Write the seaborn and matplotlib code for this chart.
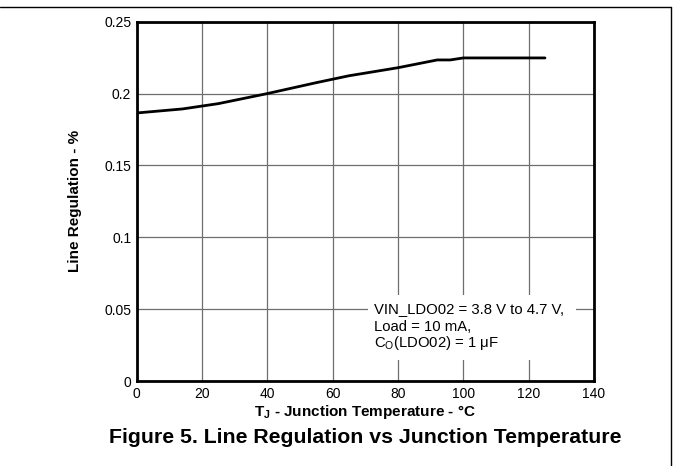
import matplotlib
matplotlib.use("Agg")
import matplotlib.pyplot as plt
import seaborn as sns
import pandas as pd
from matplotlib.lines import Line2D
from matplotlib.patches import Rectangle

# Data
temperature_c = [0, 14, 25, 40, 55, 65, 72, 80, 92, 96, 100, 125]
line_regulation_pct = [0.1865, 0.1893, 0.1930, 0.2000, 0.2076, 0.2124, 0.2150,
                       0.2180, 0.2234, 0.2234, 0.2248, 0.2248]
x_ticks = [0, 20, 40, 60, 80, 100, 120, 140]
y_ticks = [0, 0.05, 0.1, 0.15, 0.2, 0.25]
y_tick_labels = ["0", "0.05", "0.1", "0.15", "0.2", "0.25"]
annotation_lines = ["VIN_LDO02 = 3.8 V to 4.7 V,",
                    "Load = 10 mA,",
                    "C$_\\mathregular{O}$(LDO02) = 1 \u03bcF"]

sns.set_theme(style="white")
plt.rcParams["font.family"] = ["Liberation Sans", "DejaVu Sans"]
plt.rcParams["mathtext.fontset"] = "custom"
plt.rcParams["mathtext.rm"] = "Liberation Sans"
plt.rcParams["mathtext.bf"] = "Liberation Sans:bold"

df = pd.DataFrame({"T": temperature_c, "LR": line_regulation_pct})

fig = plt.figure(figsize=(6.73, 4.66), dpi=100)
ax = fig.add_axes([0.2031, 0.1824, 0.6795, 0.7710])

sns.lineplot(data=df, x="T", y="LR", ax=ax, color="black", linewidth=2.0,
             sort=False, estimator=None, zorder=5)

ax.set_xlim(0, 140)
ax.set_ylim(0, 0.25)
ax.set_xticks(x_ticks)
ax.set_yticks(y_ticks)
ax.set_yticklabels(y_tick_labels)
ax.tick_params(axis="both", length=0, labelsize=10, colors="black", pad=4)

ax.grid(True, color="#6e6e6e", linewidth=0.9)
ax.set_axisbelow(True)
for s in ax.spines.values():
    s.set_visible(True)
    s.set_color("black")
    s.set_linewidth(2.0)
    s.set_zorder(6)

ax.set_xlabel("T$_\\mathbf{J}$ - Junction Temperature - \u00b0C", fontsize=11,
              fontweight="bold", color="black", labelpad=1.5)
ax.set_ylabel("Line Regulation - %", fontsize=11, fontweight="bold",
              color="black", labelpad=16)

# white background of the condition note (hides the grid lines behind it)
ax.add_patch(Rectangle((70.9, 0.0146), 63.5, 0.0452, facecolor="white",
                       edgecolor="none", zorder=3))
for yv, line in zip([0.0501, 0.0376, 0.0262], annotation_lines):
    ax.text(72.7, yv, line, fontsize=10.7, ha="left", va="center",
            color="black", zorder=4)

fig.text(0.542, 0.062, "Figure 5. Line Regulation vs Junction Temperature",
         ha="center", va="center", fontsize=15.3, fontweight="bold",
         color="black")

# outer frame (top and right edges)
fig.add_artist(Line2D([0, 671 / 673], [1 - 7 / 466, 1 - 7 / 466],
                      transform=fig.transFigure, color="black", linewidth=1.0))
fig.add_artist(Line2D([671 / 673, 671 / 673], [0, 1 - 7 / 466],
                      transform=fig.transFigure, color="black", linewidth=1.0))

fig.savefig("out.png", dpi=100)
